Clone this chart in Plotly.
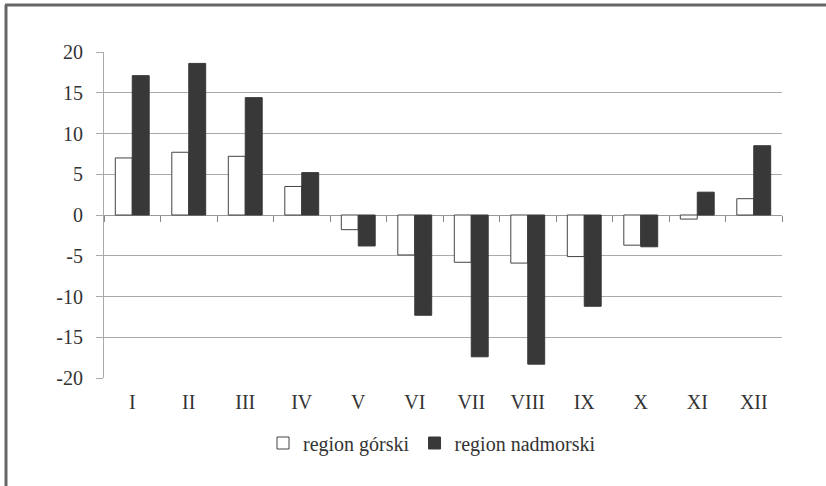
import plotly.graph_objects as go

months = ["I", "II", "III", "IV", "V", "VI", "VII", "VIII", "IX", "X", "XI", "XII"]
gorski = [7.0, 7.7, 7.2, 3.5, -1.8, -4.9, -5.8, -5.9, -5.1, -3.7, -0.5, 2.0]
nadmorski = [17.1, 18.6, 14.4, 5.2, -3.8, -12.3, -17.4, -18.3, -11.2, -3.9, 2.8, 8.5]
yticks = [20, 15, 10, 5, 0, -5, -10, -15, -20]
yticktext = ["20", "15", "10", "5", "0", "-5", "-10", "-15", "-20"]

FONT = "Liberation Serif"
FS = 20

fig = go.Figure()
fig.add_trace(go.Bar(x=months, y=gorski, name="region górski",
                     marker=dict(color="white", line=dict(color="#444444", width=1))))
fig.add_trace(go.Bar(x=months, y=nadmorski, name="region nadmorski",
                     marker=dict(color="#383838", line=dict(color="#383838", width=1))))
# invisible trace to carry the zero-line tick axis
fig.add_trace(go.Scatter(x=months, y=[None] * len(months), xaxis="x2", yaxis="y",
                         showlegend=False, hoverinfo="skip", mode="lines"))

W, H = 826, 486
L, R, T, B = 104, 44, 52, 108
pw, ph = W - L - R, H - T - B

def px(xpix):
    return (xpix - L) / pw

def py(ypix):
    return (H - B - ypix) / ph

fig.update_layout(
    width=W, height=H,
    margin=dict(l=L, r=R, t=T, b=B),
    paper_bgcolor="white", plot_bgcolor="white",
    font=dict(family=FONT, size=FS, color="#333333"),
    barmode="group", bargap=0.4, bargroupgap=0,
    xaxis=dict(showline=False, ticks="", showgrid=False, zeroline=False,
               ticklabelstandoff=10,
               tickfont=dict(family=FONT, size=FS, color="#333333")),
    xaxis2=dict(overlaying="x", anchor="free", position=0.5, matches="x",
                showticklabels=False, ticks="outside", tickson="boundaries",
                ticklen=6, tickcolor="#888888", showline=False, showgrid=False,
                zeroline=False),
    yaxis=dict(range=[-20, 20], tickvals=yticks, ticktext=yticktext,
               showline=True, linecolor="#aaaaaa", linewidth=1,
               ticks="outside", ticklen=7, tickcolor="#aaaaaa",
               ticklabelstandoff=9,
               showgrid=True, gridcolor="#aaaaaa", gridwidth=1,
               zeroline=True, zerolinecolor="#999999", zerolinewidth=1,
               tickfont=dict(family=FONT, size=FS, color="#333333")),
    legend=dict(orientation="h", x=px(432), xanchor="center", y=py(443), yanchor="middle",
                font=dict(family=FONT, size=FS, color="#333333"),
                itemwidth=30, traceorder="normal"),
    shapes=[
        dict(type="line", xref="paper", yref="paper", x0=px(5), x1=px(826),
             y0=py(5), y1=py(5), line=dict(color="#666666", width=3)),
        dict(type="line", xref="paper", yref="paper", x0=px(6), x1=px(6),
             y0=py(5), y1=py(486), line=dict(color="#666666", width=3)),
    ],
)

fig.write_html("out.html", config={"displayModeBar": False},
               post_script="document.body.style.margin='0';")
